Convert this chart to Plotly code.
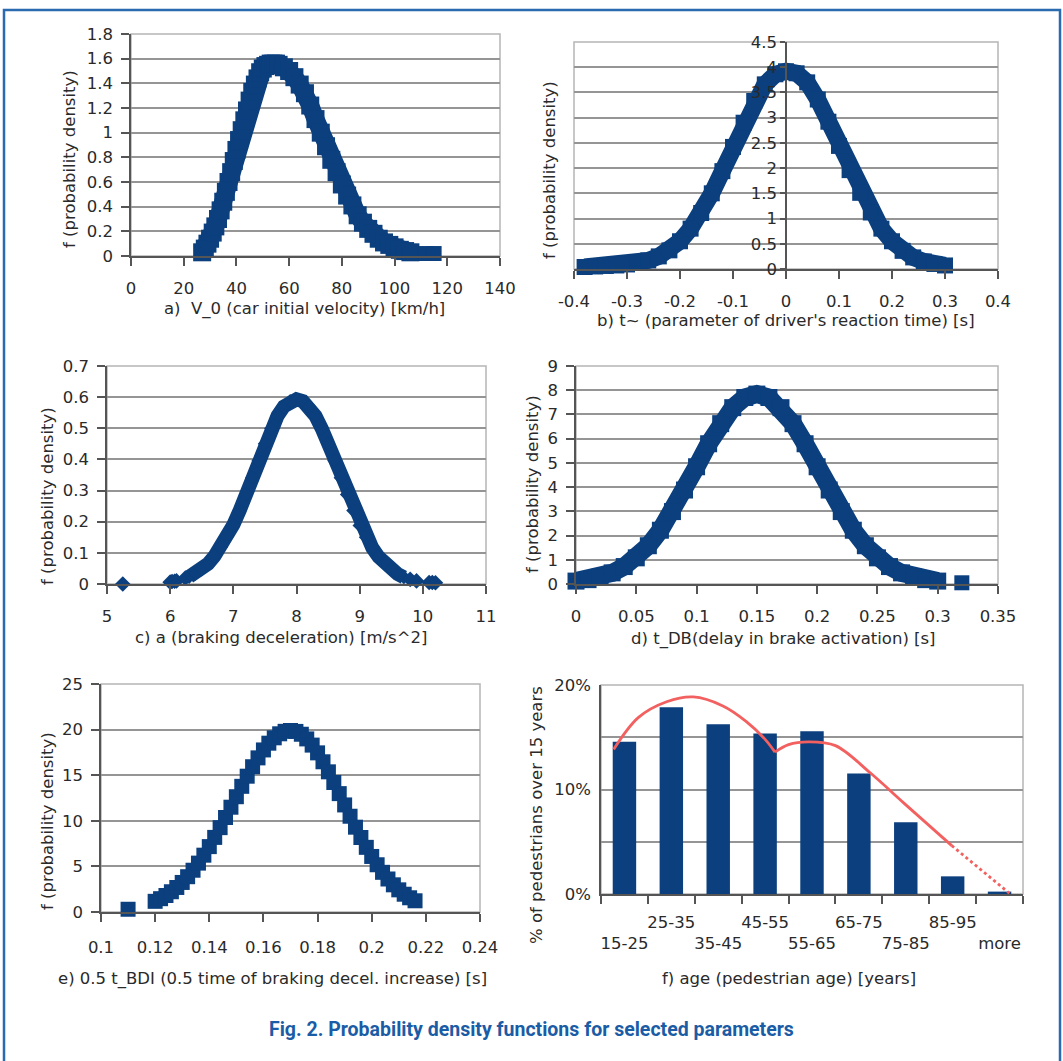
import plotly.graph_objects as go

W, H = 1063, 1061
NAVY = '#0b3f7e'
GRID = '#959595'
BOX = '#b5b5b5'
AX = '#555555'
TXT = '#2a2a2a'
RED = '#f2605f'
BLUE_TXT = '#1a5ca5'
FONT = 'DejaVu Sans'
FS = 16.5

# ---------------- data ----------------
# a) V_0 (car initial velocity)
a_x = [27, 28, 29, 30, 31, 32, 33, 34, 35, 36, 37, 38, 39, 40, 41, 42, 43, 44, 45, 46,
       47, 48, 49, 50, 51, 52, 53, 54, 55, 56, 58, 60, 62, 64, 66, 68, 70, 72, 74, 76,
       78, 80, 82, 84, 86, 88, 90, 92, 94, 96, 98, 100, 102, 104, 106]
a_y = [0.03, 0.06, 0.10, 0.14, 0.19, 0.24, 0.30, 0.37, 0.44, 0.52, 0.60, 0.68, 0.77, 0.86,
       0.94, 1.02, 1.10, 1.18, 1.26, 1.33, 1.39, 1.44, 1.49, 1.52, 1.54, 1.55, 1.56, 1.56,
       1.56, 1.55, 1.53, 1.50, 1.45, 1.39, 1.32, 1.22, 1.11, 1.00, 0.89, 0.78, 0.68, 0.58,
       0.49, 0.41, 0.33, 0.27, 0.22, 0.18, 0.14, 0.11, 0.09, 0.07, 0.05, 0.04, 0.03]
a_out_x = [112, 115]
a_out_y = [0.02, 0.02]

# b) t~ (parameter of driver's reaction time)
b_x = [-0.38, -0.36, -0.34, -0.32, -0.30, -0.28, -0.26, -0.24, -0.22, -0.20, -0.18, -0.16,
       -0.14, -0.12, -0.10, -0.08, -0.06, -0.04, -0.02, 0.00, 0.02, 0.04, 0.06, 0.08, 0.10,
       0.12, 0.14, 0.16, 0.18, 0.20, 0.22, 0.24, 0.26, 0.28, 0.30]
b_y = [0.04, 0.05, 0.06, 0.07, 0.09, 0.12, 0.17, 0.25, 0.37, 0.55, 0.80, 1.11, 1.50, 1.94,
       2.42, 2.90, 3.33, 3.66, 3.86, 3.92, 3.88, 3.70, 3.36, 2.92, 2.44, 1.96, 1.51, 1.12,
       0.80, 0.55, 0.36, 0.23, 0.15, 0.10, 0.07]
b_xticks = [-0.4, -0.3, -0.2, -0.1, 0, 0.1, 0.2, 0.3, 0.4]
b_xticktext = ['-0.4', '-0.3', '-0.2', '-0.1', '0', '0.1', '0.2', '0.3', '0.4']

# c) a (braking deceleration)
c_x = [6.3, 6.4, 6.5, 6.6, 6.7, 6.8, 6.9, 7.0, 7.1, 7.2, 7.3, 7.4, 7.5, 7.6, 7.7, 7.8, 7.9,
       8.0, 8.1, 8.2, 8.3, 8.4, 8.5, 8.6, 8.7, 8.8, 8.9, 9.0, 9.1, 9.2, 9.3, 9.4, 9.5, 9.6, 9.7]
c_y = [0.023, 0.033, 0.047, 0.065, 0.089, 0.118, 0.153, 0.190, 0.236, 0.287, 0.341, 0.396,
       0.450, 0.499, 0.540, 0.570, 0.587, 0.593, 0.587, 0.570, 0.540, 0.499, 0.450, 0.396,
       0.341, 0.287, 0.236, 0.188, 0.150, 0.116, 0.087, 0.064, 0.046, 0.032, 0.022]
c_out_x = [5.25, 6.0, 6.03, 6.07, 6.1, 6.24, 9.8, 9.9, 10.1, 10.15, 10.2]
c_out_y = [0.0, 0.006, 0.008, 0.009, 0.010, 0.019, 0.015, 0.010, 0.005, 0.005, 0.004]

# d) t_DB (delay in brake activation)
d_x = [0.00, 0.01, 0.02, 0.03, 0.04, 0.05, 0.06, 0.07, 0.08, 0.09, 0.10, 0.11, 0.12, 0.13,
       0.14, 0.15, 0.16, 0.17, 0.18, 0.19, 0.20, 0.21, 0.22, 0.23, 0.24, 0.25, 0.26, 0.27,
       0.28, 0.29, 0.30]
d_y = [0.12, 0.18, 0.29, 0.46, 0.72, 1.08, 1.58, 2.22, 2.99, 3.88, 4.84, 5.79, 6.62, 7.28,
       7.70, 7.84, 7.70, 7.28, 6.62, 5.79, 4.84, 3.88, 2.99, 2.22, 1.58, 1.08, 0.72, 0.46,
       0.29, 0.18, 0.12]
d_out_x = [0.32]
d_out_y = [0.05]

# e) 0.5 t_BDI (0.5 time of braking decel. increase)
e_x = [0.120, 0.122, 0.124, 0.126, 0.128, 0.130, 0.132, 0.134, 0.136, 0.138, 0.140, 0.142,
       0.144, 0.146, 0.148, 0.150, 0.152, 0.154, 0.156, 0.158, 0.160, 0.162, 0.164, 0.166,
       0.168, 0.170, 0.172, 0.174, 0.176, 0.178, 0.180, 0.182, 0.184, 0.186, 0.188, 0.190,
       0.192, 0.194, 0.196, 0.198, 0.200, 0.202, 0.204, 0.206, 0.208, 0.210, 0.212, 0.214,
       0.216]
e_y = [1.17, 1.46, 1.81, 2.22, 2.69, 3.24, 3.87, 4.58, 5.36, 6.23, 7.17, 8.18, 9.25, 10.36,
       11.49, 12.64, 13.78, 14.89, 15.93, 16.90, 17.77, 18.51, 19.10, 19.54, 19.81, 19.90,
       19.80, 19.49, 18.98, 18.30, 17.45, 16.47, 15.37, 14.20, 12.98, 11.74, 10.50, 9.30,
       8.17, 7.09, 6.09, 5.18, 4.35, 3.62, 2.98, 2.43, 1.95, 1.56, 1.23]
e_out_x = [0.11]
e_out_y = [0.3]

# f) age (pedestrian age)
f_cats = ['15-25', '25-35', '35-45', '45-55', '55-65', '65-75', '75-85', '85-95', 'more']
f_vals = [14.56, 17.88, 16.25, 15.37, 15.57, 11.53, 6.87, 1.69, 0.23]
f_fit1_x = [-0.23, 0.3, 0.9, 1.47, 2.1, 2.6, 3.0, 3.21]
f_fit1_y = [13.84, 16.9, 18.4, 18.86, 18.0, 16.5, 14.8, 13.58]
f_fit2_x = [3.21, 3.5, 3.93, 4.5, 5.24, 5.96, 6.98]
f_fit2_y = [13.58, 14.3, 14.56, 14.2, 11.6, 8.7, 4.63]
f_fit3_x = [6.98, 8.21]
f_fit3_y = [4.63, 0.07]
f_yticks = [0, 10, 20]
f_yticktext = ['0%', '10%', '20%']

# ---------------- figure ----------------
fig = go.Figure()


def curve(x, y, xa, ya, symbol, msize, lwidth, mode='lines+markers'):
    fig.add_trace(go.Scatter(
        x=x, y=y, xaxis=xa, yaxis=ya, mode=mode, cliponaxis=False,
        line=dict(color=NAVY, width=lwidth),
        marker=dict(symbol=symbol, size=msize, color=NAVY, line=dict(width=0)),
        showlegend=False, hoverinfo='skip'))


curve(a_x, a_y, 'x', 'y', 'square', 18, 18)
curve(a_out_x, a_out_y, 'x', 'y', 'square', 15, 0, 'markers')
curve(b_x, b_y, 'x2', 'y2', 'square', 16, 17)
curve(c_x, c_y, 'x3', 'y3', 'diamond', 11, 14)
curve(c_out_x, c_out_y, 'x3', 'y3', 'diamond', 12, 0, 'markers')
curve(d_x, d_y, 'x4', 'y4', 'square', 17, 18)
curve(d_out_x, d_out_y, 'x4', 'y4', 'square', 15, 0, 'markers')
curve(e_x, e_y, 'x5', 'y5', 'square', 15, 0, 'markers')
curve(e_out_x, e_out_y, 'x5', 'y5', 'square', 15, 0, 'markers')

f_pos = list(range(len(f_cats)))
fig.add_trace(go.Bar(x=f_pos, y=f_vals, xaxis='x6', yaxis='y6', width=0.5,
                     marker=dict(color=NAVY, line=dict(width=0)), showlegend=False,
                     hoverinfo='skip'))
for fx, fy, dash in [(f_fit1_x, f_fit1_y, 'solid'), (f_fit2_x, f_fit2_y, 'solid'),
                     (f_fit3_x, f_fit3_y, 'dot')]:
    fig.add_trace(go.Scatter(x=fx, y=fy, xaxis='x6', yaxis='y6', mode='lines',
                             line=dict(color=RED, width=2.8, shape='spline', dash=dash),
                             showlegend=False, hoverinfo='skip', cliponaxis=False))


def xd(p0, p1):
    return [p0 / W, p1 / W]


def yd(top, bottom):
    return [1 - bottom / H, 1 - top / H]


tickfont = dict(family=FONT, size=FS, color=TXT)


def xax(dom, rng, dtick, anchor, standoff=8, **kw):
    d = dict(domain=dom, range=rng, dtick=dtick, tick0=rng[0], anchor=anchor,
             showgrid=False, zeroline=False, showline=True, linecolor=AX, linewidth=1.5,
             ticks='outside', ticklen=8, tickwidth=1.5, tickcolor=AX, tickangle=0,
             tickfont=tickfont, ticklabelstandoff=standoff, fixedrange=True,
             automargin=False)
    d.update(kw)
    return d


def yax(dom, rng, dtick, anchor, standoff=5, **kw):
    d = dict(domain=dom, range=rng, dtick=dtick, tick0=0, anchor=anchor,
             showgrid=True, gridcolor=GRID, gridwidth=1.5, zeroline=False,
             showline=True, linecolor=AX, linewidth=1.5,
             ticks='outside', ticklen=8, tickwidth=1.5, tickcolor=AX,
             tickfont=tickfont, ticklabelstandoff=standoff, fixedrange=True,
             automargin=False)
    d.update(kw)
    return d


dom_a = (xd(131, 500), yd(34, 256))
dom_b = (xd(574, 998), yd(42, 269))
dom_c = (xd(107, 486), yd(366, 584))
dom_d = (xd(576, 998), yd(366, 584))
dom_e = (xd(101, 480), yd(684, 912))
dom_f = (xd(601, 1023), yd(685, 894))

b_zero_pos = dom_b[0][0] + (dom_b[0][1] - dom_b[0][0]) * 0.5

ftick = [('<br>' + c) if i % 2 == 0 else c for i, c in enumerate(f_cats)]

fig.update_layout(
    width=W, height=H, margin=dict(l=0, r=0, t=0, b=0, pad=0, autoexpand=False),
    paper_bgcolor='white', plot_bgcolor='white',
    font=dict(family=FONT, size=FS, color=TXT),
    showlegend=False,
    xaxis=xax(dom_a[0], [0, 140], 20, 'y'),
    yaxis=yax(dom_a[1], [0, 1.8], 0.2, 'x'),
    xaxis2=xax(dom_b[0], [-0.4, 0.4], 0.1, 'y2', tickmode='array', tickvals=b_xticks,
               ticktext=b_xticktext),
    yaxis2=yax(dom_b[1], [0, 4.5], 0.5, 'free', standoff=0, position=b_zero_pos, ticklen=5),
    xaxis3=xax(dom_c[0], [5, 11], 1, 'y3'),
    yaxis3=yax(dom_c[1], [0, 0.7], 0.1, 'x3'),
    xaxis4=xax(dom_d[0], [0, 0.35], 0.05, 'y4'),
    yaxis4=yax(dom_d[1], [0, 9], 1, 'x4'),
    xaxis5=xax(dom_e[0], [0.1, 0.24], 0.02, 'y5', standoff=11),
    yaxis5=yax(dom_e[1], [0, 25], 5, 'x5'),
    xaxis6=xax(dom_f[0], [-0.5, len(f_cats) - 0.5], 1, 'y6', standoff=12,
               tickmode='array', tickvals=f_pos, ticktext=ftick, ticks='',
               minor=dict(tickmode='array',
                          tickvals=[p - 0.5 for p in f_pos] + [len(f_cats) - 0.5],
                          ticks='outside', ticklen=8, tickcolor=AX, tickwidth=1.5,
                          showgrid=False)),
    yaxis6=yax(dom_f[1], [0, 20], 10, 'x6', tickmode='array', tickvals=f_yticks,
               ticktext=f_yticktext, ticklen=0,
               minor=dict(dtick=5, showgrid=True, gridcolor=GRID, gridwidth=1.5, ticks='')),
)

# plot-area boxes
shapes = []
for xr, yr in [('x', 'y'), ('x2', 'y2'), ('x3', 'y3'), ('x4', 'y4'), ('x5', 'y5'), ('x6', 'y6')]:
    shapes.append(dict(type='rect', xref=xr + ' domain', yref=yr + ' domain',
                       x0=0, x1=1, y0=0, y1=1, line=dict(color=BOX, width=1.5),
                       layer='below'))
# outer frame
shapes.append(dict(type='rect', xref='paper', yref='paper', x0=4 / W, x1=1060 / W,
                   y0=-0.05, y1=1 - 10 / H, line=dict(color='#2a6aae', width=2.5)))
fig.update_layout(shapes=shapes)


def ann(text, px, py, angle=0, size=FS, color=TXT, family=FONT):
    fig.add_annotation(text=text, x=px / W, y=1 - py / H, xref='paper', yref='paper',
                       showarrow=False, textangle=angle, xanchor='center', yanchor='middle',
                       font=dict(family=family, size=size, color=color))


ytitle = 'f (probability density)'
ann(ytitle, 70, 159, -90)
ann(ytitle, 550, 170, -90)
ann(ytitle, 47, 496, -90)
ann(ytitle, 532, 484, -90)
ann(ytitle, 47, 821, -90)
ann('% of pedestrians over 15 years', 536, 815, -90)

ann('a)  V_0 (car initial velocity) [km/h]', 304, 309)
ann("b) t~ (parameter of driver's reaction time) [s]", 786, 321)
ann('c) a (braking deceleration) [m/s^2]', 281, 637)
ann('d) t_DB(delay in brake activation) [s]', 783, 639)
ann('e) 0.5 t_BDI (0.5 time of braking decel. increase) [s]', 272, 979)
ann('f) age (pedestrian age) [years]', 789, 978)

ann('<b>Fig. 2. Probability density functions for selected parameters</b>', 531, 1029,
    size=19.5, color=BLUE_TXT, family='Roboto')

fig.write_html('out.html', config={'displayModeBar': False},
               post_script="document.body.style.margin='0';"
                           "document.body.style.overflow='hidden';")
